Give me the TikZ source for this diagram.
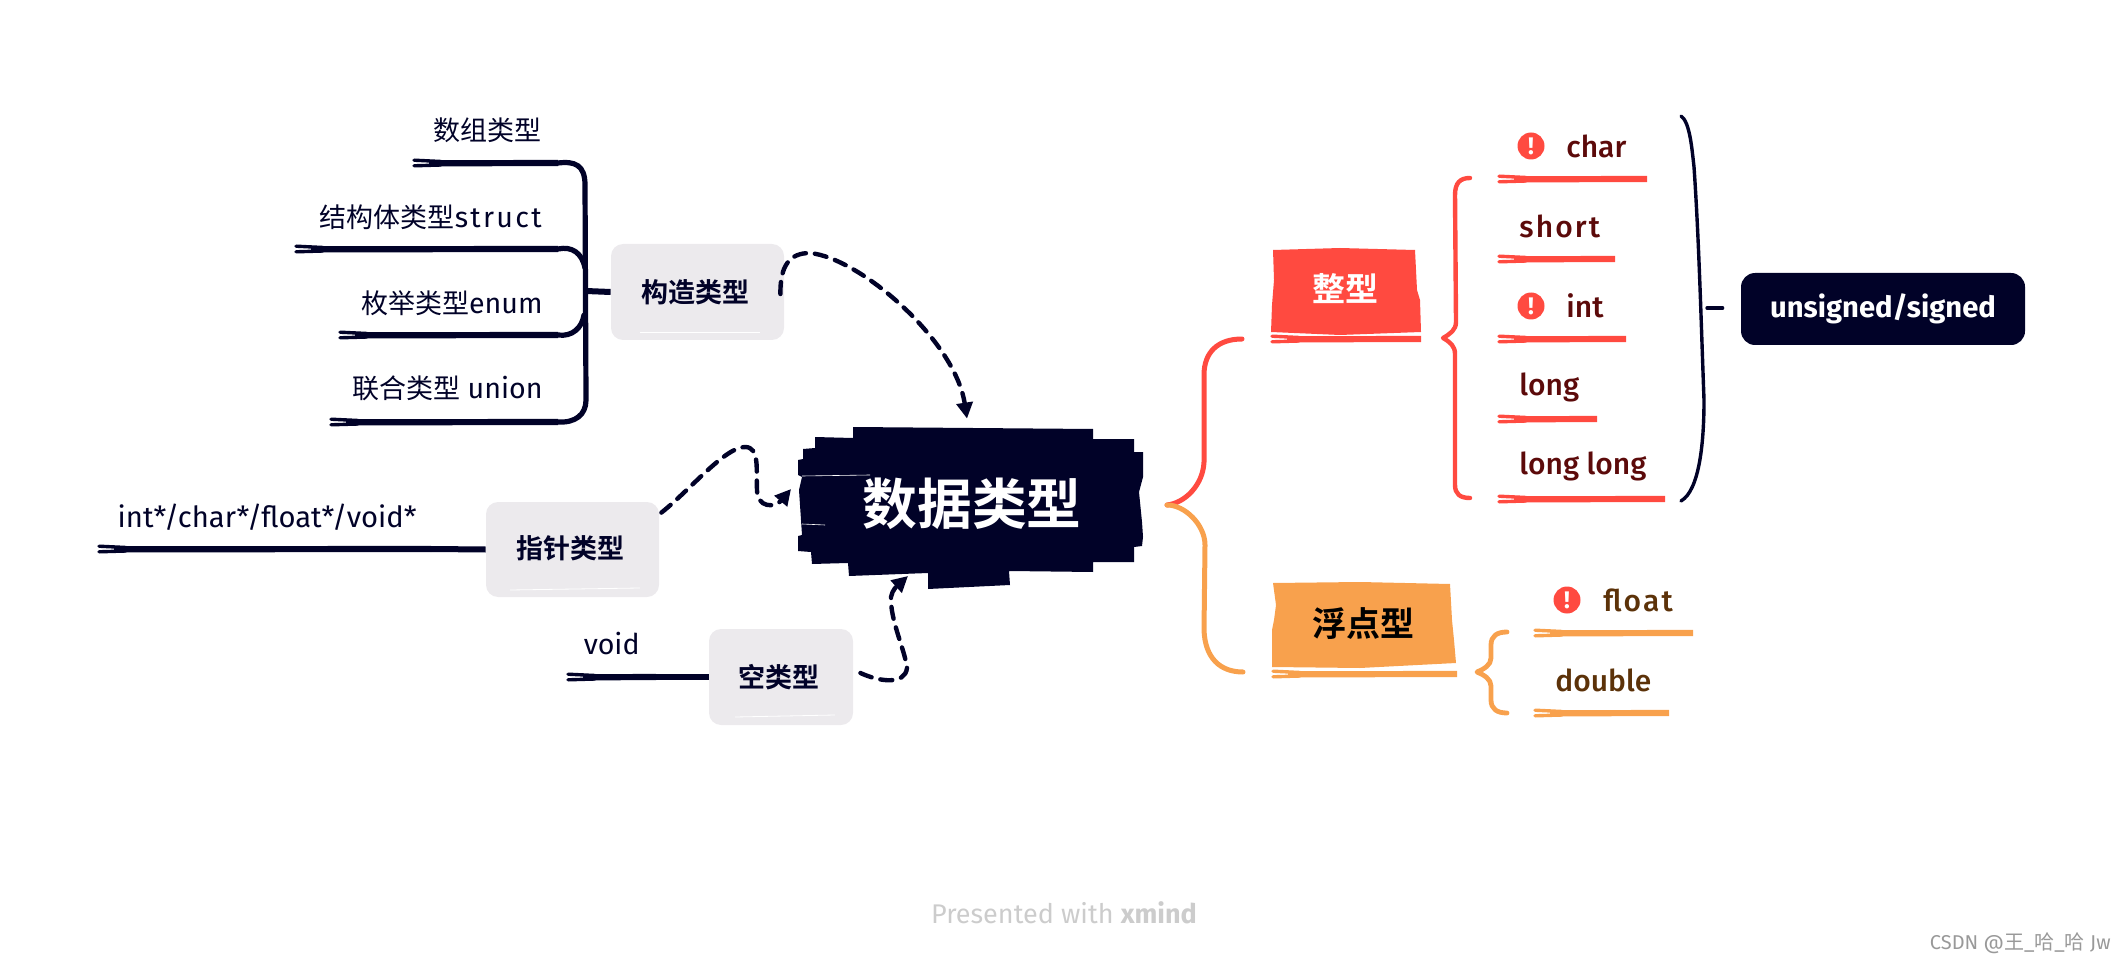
\documentclass[tikz,border=0pt]{standalone}
\usepackage{fontspec}
\setmainfont{Fira Sans}
\newfontfamily\med{Fira Sans Medium}
\newfontfamily\medwide[LetterSpace=7]{Fira Sans Medium}
\newfontfamily\regwide[LetterSpace=8]{Fira Sans}
\newfontfamily\cjk{Noto Sans CJK SC}
\newfontfamily\cjkb{Noto Sans CJK SC Bold}
\newcommand{\lc}[1]{{\fontsize{13.5}{16}\cjk #1}}
\usetikzlibrary{arrows.meta,calc}
\definecolor{navy}{HTML}{010228}
\definecolor{inkred}{HTML}{FF4A40}
\definecolor{inkorange}{HTML}{F8A14D}
\definecolor{boxgray}{HTML}{ECEAED}
\definecolor{txtred}{HTML}{5C0A0A}
\definecolor{txtbrown}{HTML}{5C3209}
\newcommand{\ul}[3]{%
  \draw[line width=3.1pt,#3,line cap=butt] ($(#1)+(16,0.3)$) -- (#2);
  \draw[line width=1.7pt,#3,line cap=round] ($(#1)+(1,-2.8)$) -- ($(#1)+(28,-1.5)$);
  \draw[line width=1.7pt,#3,line cap=round] ($(#1)+(1,2.8)$) -- ($(#1)+(28,2)$);
}
\tikzset{
  x=0.5pt,y=-0.5pt,
  grayBox/.style={fill=boxgray,rounded corners=6pt,inner sep=0pt},
  boxlabel/.style={font=\fontsize{13.5}{16}\cjkb,text=navy,inner sep=0pt},
  leaf/.style={font=\fontsize{14.3}{16}\selectfont,text=navy,inner sep=0pt,anchor=east},
  item/.style={font=\fontsize{15}{17}\med,text=txtred,inner sep=0pt,anchor=west},
  itemb/.style={item,text=txtbrown},
  warn/.style={circle,fill=inkred,text=white,inner sep=0pt,minimum size=13.5pt,font=\fontsize{12}{12}\bfseries\selectfont},
  ink/.style={line cap=round,line join=round},
  link/.style={draw=navy,line width=2.2pt,line cap=round,dash pattern=on 6pt off 4.5pt,-{Triangle[length=8pt,width=8pt]}},
}
\begin{document}
\begin{tikzpicture}
\useasboundingbox (0,0) rectangle (2124,962);
% central blot
\fill[navy] (853,427)--(1093,429)--(1093,439)--(1134,439)--(1134,452)--(1143,452)--(1143,477)--(1139,492)--(1142,522)--(1143,537)--(1142,546)--(1134,547)--(1134,562)--(1093,562)--(1093,572)--(1009,571)--(1010,585)--(928,589)--(928,573)--(849,576)--(848,563)--(812,564)--(811,552)--(798,551)--(798,536)--(802,535)--(799,490)--(802,477)--(798,475)--(798,460)--(803,459)--(803,449)--(815,448)--(815,437)--(853,438)--cycle;
\draw[white,line width=.3pt] (802,476)--(870,475);
\draw[white,line width=.3pt] (802,524)--(825,525);
\node[minimum width=172.5pt,minimum height=85pt,inner sep=0pt,text=white,font=\fontsize{27.4}{30}\cjkb] (main) at (972,504) {数据类型};
% integer head
\fill[inkred] (1273,250)--(1340,248)--(1415,250)--(1417,290)--(1420,300)--(1421,332)--(1340,335)--(1271,332)--(1272,305)--(1274,280)--cycle;
\node[inner sep=0pt,text=white,font=\fontsize{16.5}{18}\cjkb] (int) at (1345,289) {整型};
\coordinate (intL) at (1271,339); \coordinate (intR) at (1421,339);
\ul{intL}{intR}{inkred}
% float head
\fill[inkorange] (1273,583)--(1360,582)--(1450,584)--(1452,620)--(1454,640)--(1456,663)--(1360,668)--(1272,667)--(1272,630)--(1274,620)--(1276,605)--cycle;
\node[inner sep=0pt,text=black,font=\fontsize{17}{19}\cjkb] (flo) at (1363,624) {浮点型};
\coordinate (floL) at (1272,674); \coordinate (floR) at (1457,674);
\ul{floL}{floR}{inkorange}
% main branches
\coordinate (hub) at (1167,505);
\coordinate (redEnd) at (1242,339);
\coordinate (orgEnd) at (1243,672);
\draw[ink,inkred,line width=2.5pt] (hub) .. controls (1185,503) and (1203,485) .. (1204,462) -- (1204,375) .. controls (1204,352) and (1218,339) .. (redEnd);
\draw[ink,inkorange,line width=2.5pt] (hub) .. controls (1185,505) and (1205,525) .. (1205,545) -- (1204,630) .. controls (1205,658) and (1220,672) .. (orgEnd);
% integer items
\node[warn] (wChar) at (1531,146) {!};
\node[item] (char) at (1566,146) {char};
\node[item] (short) at (1519,226) {\medwide short};
\node[warn] (wInt) at (1531,306) {!};
\node[item] (iint) at (1566,306) {int};
\node[item] (long) at (1519,387) {long};
\node[item] (ll) at (1519,466) {long long};
\coordinate (charL) at (1498,179); \coordinate (charR) at (1647,179); \ul{charL}{charR}{inkred}
\coordinate (shortL) at (1498,259); \coordinate (shortR) at (1615,259); \ul{shortL}{shortR}{inkred}
\coordinate (iintL) at (1498,339); \coordinate (iintR) at (1626,339); \ul{iintL}{iintR}{inkred}
\coordinate (longL) at (1498,419); \coordinate (longR) at (1597,419); \ul{longL}{longR}{inkred}
\coordinate (llL) at (1498,499); \coordinate (llR) at (1665,499); \ul{llL}{llR}{inkred}
% integer brace
\coordinate (braceTop) at (1470,178);
\coordinate (braceBot) at (1470,498);
\coordinate (braceTip) at (1443,338);
\draw[ink,inkred,line width=2.2pt] (braceTop) .. controls (1460,178) and (1455,183) .. (1455,195) -- (1456,322) .. controls (1456,330) and (1450,334) .. (braceTip) .. controls (1450,342) and (1455,346) .. (1455,354) -- (1455,485) .. controls (1455,494) and (1460,498) .. (braceBot);
% float items
\node[warn] (wFlo) at (1567,600) {!};
\node[itemb] (float) at (1603,600) {\medwide float};
\node[itemb] (double) at (1555,680) {double};
\coordinate (floatL) at (1534,633); \coordinate (floatR) at (1693,633); \ul{floatL}{floatR}{inkorange}
\coordinate (doubleL) at (1534,713); \coordinate (doubleR) at (1669,713); \ul{doubleL}{doubleR}{inkorange}
\coordinate (fbTop) at (1507,632);
\coordinate (fbBot) at (1507,713);
\coordinate (fbTip) at (1477,672);
\draw[ink,inkorange,line width=2.4pt] (fbTop) .. controls (1497,632) and (1491,636) .. (1491,645) -- (1491,658) .. controls (1491,665) and (1484,669) .. (fbTip) .. controls (1484,675) and (1491,679) .. (1491,686) -- (1491,700) .. controls (1491,709) and (1497,713) .. (fbBot);
% unsigned
\coordinate (bkTop) at (1681,116);
\coordinate (bkBot) at (1681,501);
\coordinate (bkMid) at (1707,308);
\draw[ink,navy,line width=1.7pt] (bkTop) .. controls (1690,122) and (1692,150) .. (1694,167) .. controls (1699,240) and (1701,320) .. (1704,400) .. controls (1704,440) and (1700,490) .. (bkBot);
\node[fill=navy,rounded corners=7pt,minimum width=142pt,minimum height=36pt,inner sep=0pt,text=white,font=\fontsize{14.6}{16}\bfseries\selectfont] (uns) at (1883,309) {unsigned/signed};
\draw[ink,navy,line width=1.7pt] (bkMid) -- ($(uns.west)+(-18,-1)$);
% construct
\node[grayBox,minimum width=86.5pt,minimum height=48pt] (gzBox) at (697.5,292) {};
\node[boxlabel] (gz) at (695,292) {构造类型};
\draw[white,line width=.4pt] (640,332)--(760,332);
\node[leaf] (n1) at (542,130) {\lc{数组类型}};
\node[leaf] (n2) at (542,217) {\lc{结构体类型}{\regwide struct}};
\node[leaf] (n3) at (543,303) {\lc{枚举类型}enum};
\node[leaf] (n4) at (543,388) {\lc{联合类型} union};
\coordinate (a1L) at (413,163); \coordinate (a1R) at (558,163); \ul{a1L}{a1R}{navy}
\coordinate (a2L) at (295,249); \coordinate (a2R) at (558,249); \ul{a2L}{a2R}{navy}
\coordinate (a3L) at (339,335); \coordinate (a3R) at (558,335); \ul{a3L}{a3R}{navy}
\coordinate (a4L) at (330,422); \coordinate (a4R) at (558,422); \ul{a4L}{a4R}{navy}
\draw[ink,navy,line width=2.6pt] (a1R) .. controls (575,161) and (585,165) .. (585,185) -- (586,400) .. controls (586,415) and (575,423) .. (a4R);
\draw[ink,navy,line width=2.6pt] (a2R) .. controls (572,246) and (582,253) .. (585,268);
\draw[ink,navy,line width=2.6pt] (a3R) .. controls (572,337) and (582,328) .. (584,315);
\draw[navy,line width=3pt] (586,291) -- (gzBox.west);
% pointer
\node[grayBox,minimum width=86.5pt,minimum height=47.5pt] (ptrBox) at (572.5,549.5) {};
\node[boxlabel] (ptr) at (570,548) {指针类型};
\draw[white,line width=.4pt] (510,590)--(640,588);
\node[leaf,font=\fontsize{14.6}{17}\selectfont] (p1) at (417,517) {int*/char*/float*/void*};
\coordinate (pL) at (98,549); \coordinate (pR) at (431,549); \ul{pL}{pR}{navy}
\draw[navy,line width=3pt] (pR) -- (ptrBox.west);
% void
\node[grayBox,minimum width=72pt,minimum height=48pt] (voidBox) at (781,677) {};
\node[boxlabel] (voi) at (779,677) {空类型};
\draw[white,line width=.4pt] (735,717)--(835,715);
\node[leaf] (v1) at (640,644) {void};
\coordinate (vL) at (567,677); \coordinate (vR) at (656,677); \ul{vL}{vR}{navy}
\draw[navy,line width=3pt] (vR) -- (voidBox.west);
% dashed links
\coordinate (tipL) at (791,489);
\coordinate (tipB) at (908,576);
\draw[link] ($(gzBox.east)+(-4,2)$) .. controls (780,265) and (790,253) .. (810,253) .. controls (860,258) and (955,340) .. ($(main.north)+(-5,0)$);
\draw[link] ($(ptrBox.north east)+(2,11)$) .. controls (690,490) and (725,447) .. (745,447) .. controls (760,447) and (756,470) .. (757,490) .. controls (757,508) and (775,508) .. (tipL);
\draw[link] ($(voidBox.east)+(7,-4)$) .. controls (880,682) and (905,685) .. (907,668) .. controls (905,650) and (890,620) .. (891,597) .. controls (892,590) and (898,585) .. (tipB);
% footer
\node[inner sep=0pt,text=black!20,font=\fontsize{13.5}{16}\selectfont] (foot) at (1064,913) {Presented with \textbf{xmind}};
\node[inner sep=0pt,text=black!40,font=\fontsize{10}{12}\selectfont,anchor=east] (wm) at (2111,943) {CSDN @{\cjk 王}\_{\cjk 哈}\_{\cjk 哈} Jw};
\end{tikzpicture}
\end{document}
